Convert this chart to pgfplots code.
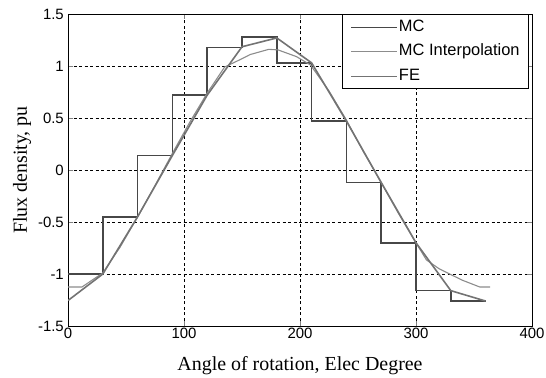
\documentclass[border=0pt]{standalone}
\usepackage{fontspec}
\setmainfont{Liberation Serif}
\setsansfont{Liberation Sans}
\usepackage{pgfplots}
\pgfplotsset{compat=1.18}
\usetikzlibrary{calc}
\begin{document}
\begin{tikzpicture}
\begin{axis}[
  scale only axis,
  width=464bp, height=312bp,
  xmin=0, xmax=400, ymin=-1.5, ymax=1.5,
  xtick={0,100,200,300,400},
  ytick={-1.5,-1,-0.5,0,0.5,1,1.5},
  /pgf/number format/assume math mode=true,
  tick label style={font=\sffamily\fontsize{15}{15}\selectfont},
  x tick label style={inner sep=1.5bp, anchor=north},
  y tick label style={inner sep=4bp, anchor=east},
  yticklabel style={/pgf/number format/fixed},
  tick align=inside,
  major tick length=5bp,
  axis line style={black, line width=0.8bp},
  grid=major,
  major grid style={black, dash pattern=on 3bp off 2.5bp, line width=0.6bp},
  xlabel={Angle of rotation, Elec Degree},
  ylabel={Flux density, pu},
  label style={font=\fontsize{20}{20}\selectfont},
  xlabel style={at={(axis description cs:0.5,-0.128)}, anchor=center},
  ylabel style={at={(axis description cs:-0.099,0.5)}, anchor=center},
  legend cell align=left,
  legend style={at={(1,1)}, anchor=north east, xshift=-3bp,
    draw=black, line width=0.8bp, fill=white,
    font=\sffamily\fontsize{16.5}{16.5}\selectfont,
    inner xsep=8bp, inner ysep=0.5bp,
    nodes={inner xsep=1bp, inner ysep=4.5bp, text height=12bp, text depth=3.5bp}},
  legend image code/.code={\draw[#1, line width=1.2bp] (0bp,0bp) -- (46bp,0bp);},
]
\addplot[const plot mark left, color=black!72, line width=1.5bp] coordinates {
(0,-1.0) (30,-0.45) (60,0.14) (90,0.72) (120,1.18) (150,1.28) (180,1.03)
(210,0.47) (240,-0.12) (270,-0.70) (300,-1.16) (330,-1.26) (360,-1.26)};
\addlegendentry{MC}
\addplot[color=black!45, line width=1.1bp] coordinates {
(0,-1.125) (12,-1.125) (30,-0.99) (45,-0.74) (60,-0.45) (75,-0.15) (90,0.16)
(105,0.46) (120,0.74) (135,0.99) (150,1.07) (157,1.11) (173,1.16) (181,1.155)
(197,1.09) (209,1.01) (225,0.76) (240,0.48) (255,0.17) (270,-0.12) (285,-0.42)
(300,-0.70) (309,-0.865) (320,-0.95) (329,-1.0) (340,-1.06) (355,-1.125) (364,-1.125)};
\addlegendentry{MC Interpolation}
\addplot[color=black!55, line width=1.6bp] coordinates {
(0,-1.255) (30,-1.0) (60,-0.45) (90,0.14) (120,0.72) (150,1.185) (180,1.27)
(210,1.03) (240,0.47) (270,-0.12) (300,-0.70) (330,-1.16) (360,-1.26)};
\addlegendentry{FE}
\coordinate (SW) at (rel axis cs:0,0);
\coordinate (NE) at (rel axis cs:1,1);
\end{axis}
\pgfresetboundingbox
\path ($(SW)+(-68bp,-51bp)$) rectangle ($(NE)+(14bp,14bp)$);
\end{tikzpicture}
\end{document}
